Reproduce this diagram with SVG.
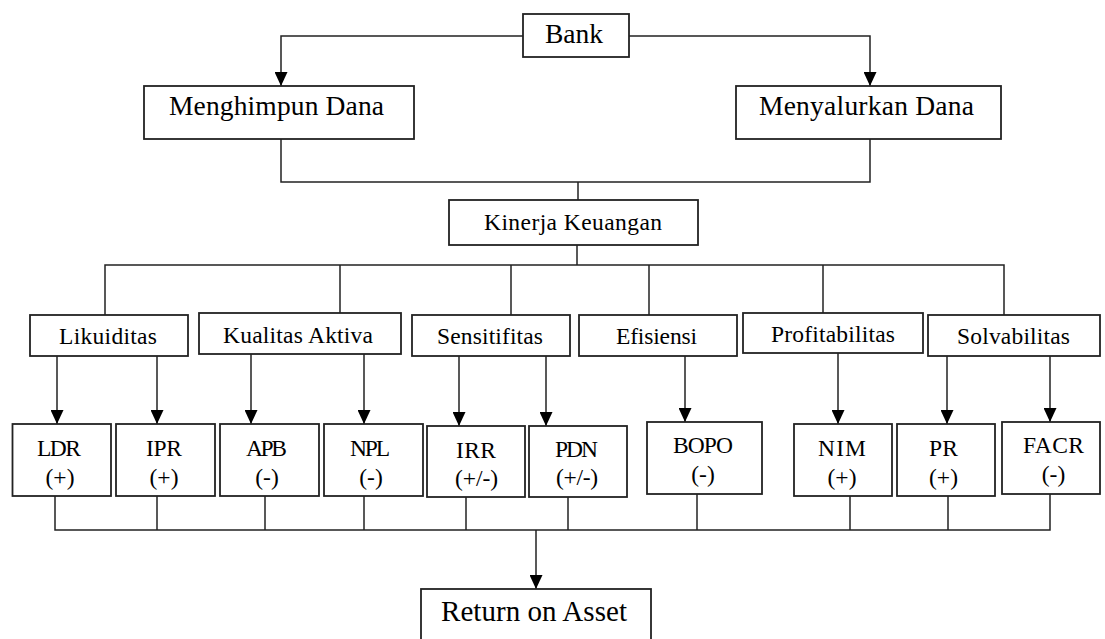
<svg xmlns="http://www.w3.org/2000/svg" width="1105" height="639" viewBox="0 0 1105 639">
<style>
.box{fill:#fff;stroke:#222;stroke-width:1.8}
.ln{fill:none;stroke:#222;stroke-width:1.5}
text{font-family:"Liberation Serif","Times New Roman",serif;fill:#000;text-anchor:middle}
.t1{font-size:27.5px}
.t2{font-size:23.5px}
.t3{font-size:29px}
</style>
<defs>
<marker id="ah" markerUnits="userSpaceOnUse" markerWidth="14" markerHeight="13" refX="14" refY="6.5" orient="auto">
<path d="M0,0 L14,6.5 L0,13 z" fill="#000"/>
</marker>
</defs>
<rect width="1105" height="639" fill="#fff"/>
<g id="connectors">
<path class="ln" d="M523,36 H281 V86" marker-end="url(#ah)"/>
<path class="ln" d="M629,36 H870 V86" marker-end="url(#ah)"/>
<path class="ln" d="M281,139 V182 H870 V139"/>
<path class="ln" d="M578,182 V200"/>
<path class="ln" d="M577,245 V265"/>
<path class="ln" d="M105,315 V265 H1004 V315"/>
<path class="ln" d="M340,265 V313"/>
<path class="ln" d="M511,265 V315"/>
<path class="ln" d="M649,265 V315"/>
<path class="ln" d="M823,265 V313"/>
<path class="ln" d="M57,356 V424" marker-end="url(#ah)"/>
<path class="ln" d="M157,356 V424" marker-end="url(#ah)"/>
<path class="ln" d="M251,354 V424" marker-end="url(#ah)"/>
<path class="ln" d="M364,354 V424" marker-end="url(#ah)"/>
<path class="ln" d="M459,356 V426" marker-end="url(#ah)"/>
<path class="ln" d="M546,356 V426" marker-end="url(#ah)"/>
<path class="ln" d="M685,356 V422" marker-end="url(#ah)"/>
<path class="ln" d="M838,353 V424" marker-end="url(#ah)"/>
<path class="ln" d="M947,356 V424" marker-end="url(#ah)"/>
<path class="ln" d="M1050,356 V422" marker-end="url(#ah)"/>
<path class="ln" d="M55,496 V530 H1050 V494"/>
<path class="ln" d="M157,496 V530"/>
<path class="ln" d="M265,496 V530"/>
<path class="ln" d="M364,496 V530"/>
<path class="ln" d="M466,497 V530"/>
<path class="ln" d="M568,497 V530"/>
<path class="ln" d="M697,494 V530"/>
<path class="ln" d="M850,496 V530"/>
<path class="ln" d="M948,496 V530"/>
<path class="ln" d="M536,530 V589" marker-end="url(#ah)"/>
</g>
<g id="bank"><rect class="box" x="523" y="14" width="106" height="43"/><text class="t1" x="574" y="43" textLength="58">Bank</text></g>
<g id="menghimpun"><rect class="box" x="144" y="86" width="270" height="53"/><text class="t1" x="276.5" y="115" textLength="215">Menghimpun Dana</text></g>
<g id="menyalurkan"><rect class="box" x="736" y="86" width="265" height="53"/><text class="t1" x="866.5" y="115" textLength="215">Menyalurkan Dana</text></g>
<g id="kinerja"><rect class="box" x="449" y="200" width="249" height="45"/><text class="t2" x="573" y="230" textLength="178">Kinerja Keuangan</text></g>
<g id="likuiditas"><rect class="box" x="30" y="315" width="158" height="41"/><text class="t2" x="108" y="344" textLength="98">Likuiditas</text></g>
<g id="kualitas"><rect class="box" x="199" y="313" width="202" height="41"/><text class="t2" x="298" y="343" textLength="150">Kualitas Aktiva</text></g>
<g id="sensitifitas"><rect class="box" x="412" y="315" width="158" height="41"/><text class="t2" x="490" y="344" textLength="106">Sensitifitas</text></g>
<g id="efisiensi"><rect class="box" x="579" y="315" width="158" height="41"/><text class="t2" x="656.5" y="344" textLength="81">Efisiensi</text></g>
<g id="profitabilitas"><rect class="box" x="743" y="313" width="180" height="40"/><text class="t2" x="833" y="342" textLength="124">Profitabilitas</text></g>
<g id="solvabilitas"><rect class="box" x="928" y="315" width="172" height="41"/><text class="t2" x="1013.5" y="344" textLength="113">Solvabilitas</text></g>
<g id="ldr"><rect class="box" x="12.5" y="424" width="98.5" height="72"/><text class="t2" x="59" y="456" textLength="44">LDR</text><text class="t2" x="60" y="485">(+)</text></g>
<g id="ipr"><rect class="box" x="116" y="424" width="99" height="72"/><text class="t2" x="164" y="456" textLength="36">IPR</text><text class="t2" x="164" y="485">(+)</text></g>
<g id="apb"><rect class="box" x="220" y="424" width="99" height="72"/><text class="t2" x="266.5" y="456" textLength="41">APB</text><text class="t2" x="267" y="485">(-)</text></g>
<g id="npl"><rect class="box" x="324" y="424" width="99" height="72"/><text class="t2" x="370" y="456" textLength="40">NPL</text><text class="t2" x="371" y="485">(-)</text></g>
<g id="irr"><rect class="box" x="427" y="426" width="98" height="71"/><text class="t2" x="476" y="458" textLength="40">IRR</text><text class="t2" x="476.5" y="486" textLength="43">(+/-)</text></g>
<g id="pdn"><rect class="box" x="529" y="426" width="98" height="71"/><text class="t2" x="576.5" y="457" textLength="43">PDN</text><text class="t2" x="577" y="485" textLength="42">(+/-)</text></g>
<g id="bopo"><rect class="box" x="647" y="422" width="115" height="72"/><text class="t2" x="703" y="453" textLength="60">BOPO</text><text class="t2" x="703" y="482">(-)</text></g>
<g id="nim"><rect class="box" x="794" y="424" width="98" height="72"/><text class="t2" x="842" y="456" textLength="48">NIM</text><text class="t2" x="842" y="485">(+)</text></g>
<g id="pr"><rect class="box" x="897" y="424" width="98" height="72"/><text class="t2" x="943.5" y="456" textLength="29">PR</text><text class="t2" x="943.5" y="485">(+)</text></g>
<g id="facr"><rect class="box" x="1002" y="422" width="98" height="72"/><text class="t2" x="1053.5" y="453" textLength="61">FACR</text><text class="t2" x="1053.5" y="482">(-)</text></g>
<g id="roa"><rect class="box" x="421" y="589" width="230" height="60"/><text class="t3" x="534" y="621" textLength="186">Return on Asset</text></g>
</svg>
